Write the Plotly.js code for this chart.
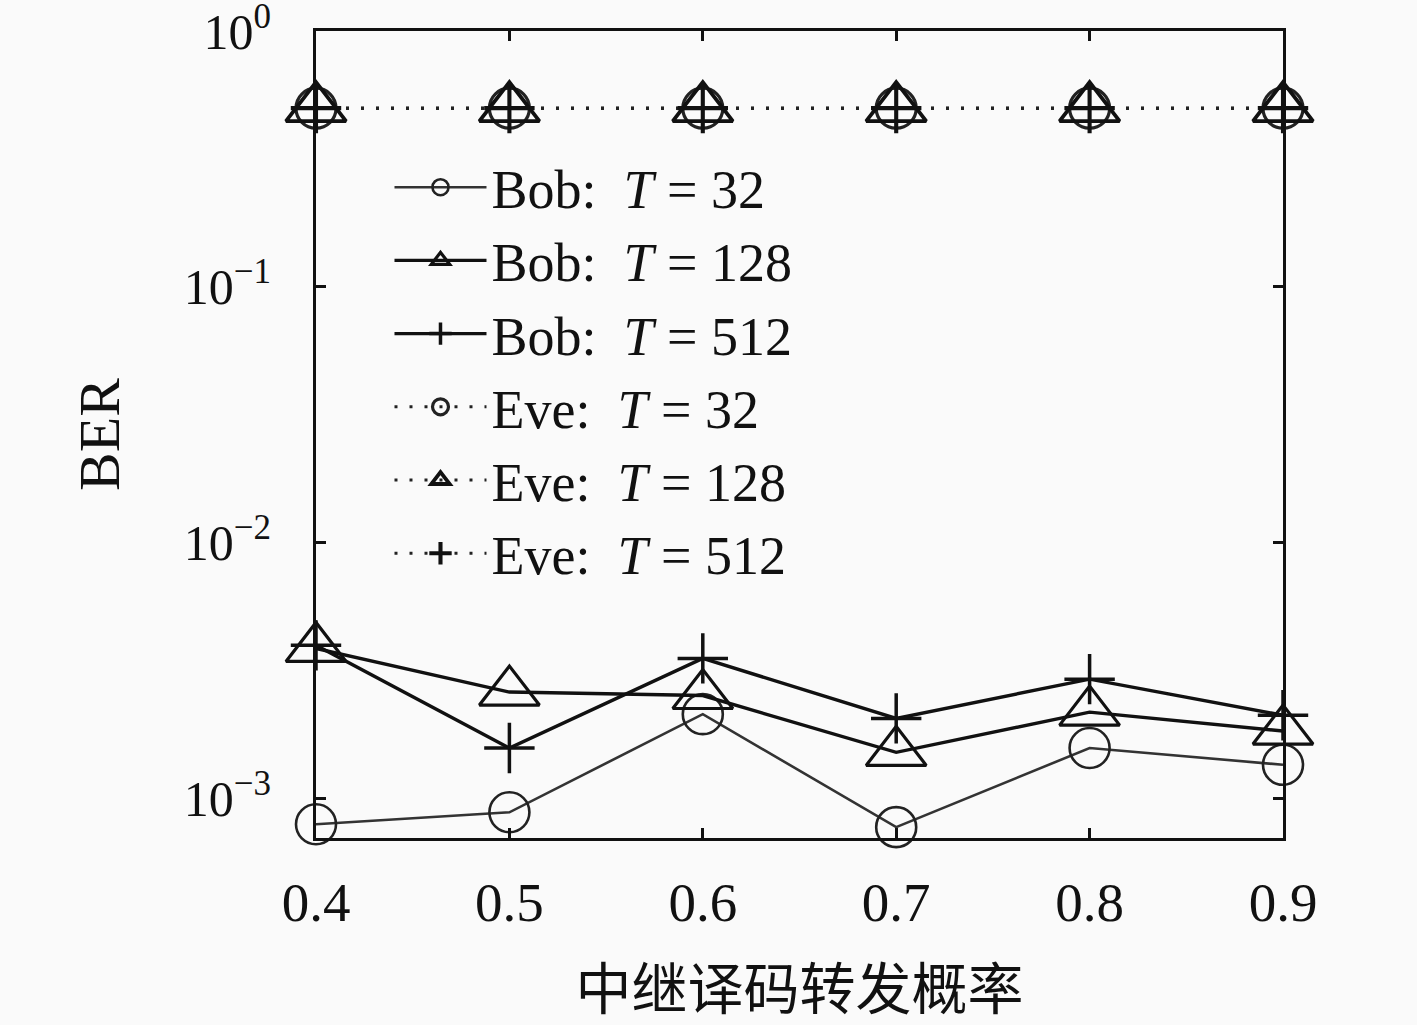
<!DOCTYPE html>
<html>
<head>
<meta charset="utf-8">
<script src="https://cdn.plot.ly/plotly-3.0.1.min.js"></script>
<style>
  html, body { margin: 0; padding: 0; background: #fafafa; }
  #chart { width: 1417px; height: 1025px; }
</style>
</head>
<body>
<div id="chart"></div>
<script>
// forwarding probability (x axis)
const probs = [0.4, 0.5, 0.6, 0.7, 0.8, 0.9];

// BER
const bob32  = [7.9e-4, 8.8e-4, 2.13e-3, 7.7e-4, 1.57e-3, 1.35e-3];
const bob128 = [3.85e-3, 2.6e-3, 2.52e-3, 1.51e-3, 2.17e-3, 1.83e-3];
const bob512 = [3.96e-3, 1.57e-3, 3.52e-3, 2.05e-3, 2.92e-3, 2.11e-3];
const eve32  = [0.5, 0.5, 0.5, 0.5, 0.5, 0.5];
const eve128 = [0.5, 0.5, 0.5, 0.5, 0.5, 0.5];
const eve512 = [0.5, 0.5, 0.5, 0.5, 0.5, 0.5];

const names = [
    'Bob:  <i>T</i> = 32', 'Bob:  <i>T</i> = 128', 'Bob:  <i>T</i> = 512',
    'Eve:  <i>T</i> = 32', 'Eve:  <i>T</i> = 128', 'Eve:  <i>T</i> = 512'
];

const yTickVals = [1, 0.1, 0.01, 0.001];
const yTickText = ['10<sup>0</sup>', '10<sup>\u22121</sup>', '10<sup>\u22122</sup>', '10<sup>\u22123</sup>'];

// marker look per T value
function markerFor(sym, w) {
    if (sym === 'circle') return { symbol: 'circle-open', size: 40, color: '#222', line: { width: w, color: '#222' } };
    if (sym === 'triangle') return { symbol: 'triangle-up-open', size: 52, color: '#111', line: { width: w + 0.6, color: '#111' } };
    return { symbol: 'cross-thin-open', size: 36, color: '#111', line: { width: w + 0.9, color: '#111' } };
}

function makeTrace(y, name, sym, lineStyle, mw) {
    return {
        x: probs,
        y: y,
        name: name,
        type: 'scatter',
        mode: 'lines+markers',
        cliponaxis: false,
        line: lineStyle,
        marker: markerFor(sym, mw)
    };
}

const solidThin = { color: '#333', width: 2.6 };
const solid = { color: '#111', width: 3.4 };
const dotted = { color: '#222', width: 3, dash: '3px,12px' };

const traces = [
    makeTrace(bob32, names[0], 'circle', solidThin, 2.6),
    makeTrace(bob128, names[1], 'triangle', solid, 2.6),
    makeTrace(bob512, names[2], 'plus', solid, 2.6),
    makeTrace(eve32, names[3], 'circle', dotted, 3.2),
    makeTrace(eve128, names[4], 'triangle', dotted, 3.2),
    makeTrace(eve512, names[5], 'plus', dotted, 3.2)
];

const serif = 'Liberation Serif, DejaVu Serif, serif';

const layout = {
    width: 1417,
    height: 1025,
    paper_bgcolor: '#fafafa',
    plot_bgcolor: '#fafafa',
    margin: { l: 316, r: 134, t: 31, b: 187 },
    showlegend: true,
    legend: {
        x: 0.076,
        y: 0.858,
        xanchor: 'left',
        yanchor: 'top',
        bgcolor: 'rgba(0,0,0,0)',
        borderwidth: 0,
        itemwidth: 92,
        font: { family: serif, size: 54, color: '#111' }
    },
    xaxis: {
        range: [0.4, 0.9],
        tickvals: probs,
        ticktext: probs.map(p => p.toFixed(1)),
        ticks: 'inside',
        ticklen: 10,
        tickwidth: 3,
        tickcolor: '#111',
        ticklabelstandoff: 14,
        showline: true,
        linewidth: 3,
        linecolor: '#111',
        mirror: 'ticks',
        showgrid: false,
        zeroline: false,
        tickfont: { family: serif, size: 55, color: '#111' },
        title: {
            text: '中继译码转发概率',
            font: { family: 'Noto Sans CJK SC', size: 56, color: '#111' },
            standoff: 38
        }
    },
    yaxis: {
        type: 'log',
        range: [-3.156, 0.0008],
        tickvals: yTickVals,
        ticktext: yTickText,
        ticks: 'inside',
        ticklen: 10,
        tickwidth: 3,
        tickcolor: '#111',
        ticklabelstandoff: 32,
        ticklabeloverflow: 'allow',
        showline: true,
        linewidth: 3,
        linecolor: '#111',
        mirror: 'ticks',
        showgrid: false,
        zeroline: false,
        tickfont: { family: serif, size: 50, color: '#111' },
        title: {
            text: 'BER',
            font: { family: serif, size: 58, color: '#111' },
            standoff: 46
        }
    }
};

Plotly.newPlot('chart', traces, layout, { displayModeBar: false, staticPlot: true });
</script>
</body>
</html>
